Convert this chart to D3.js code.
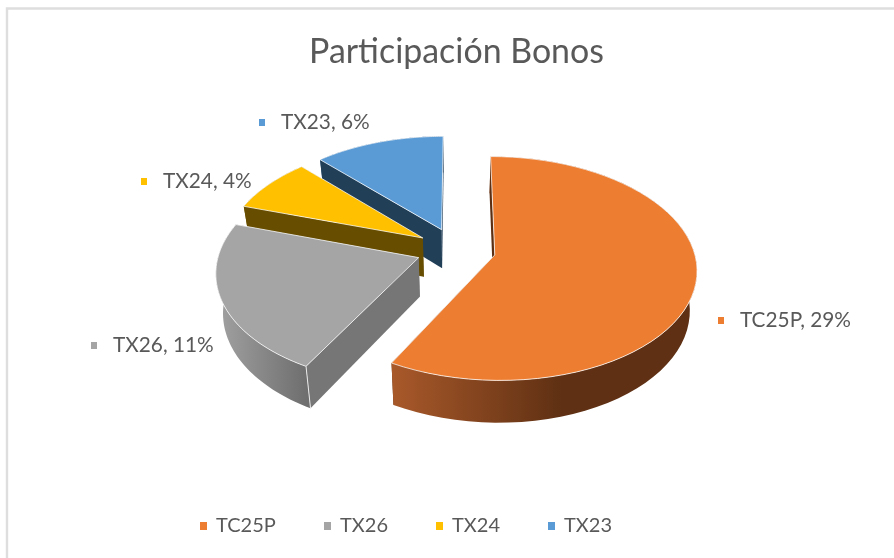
<!DOCTYPE html>
<html><head><meta charset="utf-8">
<script src="https://cdn.jsdelivr.net/npm/d3@7"></script>
<style>html,body{margin:0;padding:0;background:#fff}svg{display:block;filter:blur(0.5px)}text{font-family:Lato,"Open Sans",sans-serif;fill:#595959}</style>
</head><body><svg id="c" width="894" height="558"></svg>
<script>
const categories = ["TC25P","TX26","TX24","TX23"];
const values = [29,11,4,6];
const labelPercent = ["29%","11%","4%","6%"];
const chartTitle = "Participación Bonos";
const colors = ["#ED7D31","#A5A5A5","#FFC000","#5B9BD5"];
const radialWallColors = ["#5c2f12","#767676","#664d00","#223f58"];
const arcWallFrom = ["#a9592a","#a2a2a2","#806000","#2e5c85"];
const arcWallTo = ["#5f3013","#6f6f6f","#664d00","#223f58"];
const labelX = [740,113,163,281];
const labelY = [320,345,181,122];
const legendStarts = [216,340,452,564];
const paintOrder = [3,2,1,0];

const svg = d3.select("#c");
const cx=456, cy=249.5, rx=199, ry=109, persp=0.12, explode=0.2, depthD=39, depthGrow=1.025, shrink=0.97;
const sx = d3.scaleLinear().domain([-1,1]).range([-rx,rx]);
const sy = d3.scaleLinear().domain([-1,1]).range([-ry,ry]);
function proj(u,v,low){
  const k = 1/(1-persp*v);
  let X = sx(u)*k, Y = sy(v)*k;
  if(low){ X*=shrink; Y=Y*depthGrow+depthD; }
  return [cx+X, cy+Y];
}
const pie = d3.pie().sort(null).value(d=>d);
const arcs = pie(values);
const line = d3.line();
const defs = svg.append("defs");

// frame
svg.append("path").attr("d","M7,558V8.5H894").attr("fill","none").attr("stroke","#dedede").attr("stroke-width",2.4);

svg.append("text").attr("x",456.5).attr("y",63).attr("text-anchor","middle").attr("font-size",33.9).text(chartTitle);

paintOrder.forEach(i=>{
  const a = arcs[i];
  const mid=(a.startAngle+a.endAngle)/2;
  const ox=explode*Math.sin(mid), oy=-explode*Math.cos(mid);
  const pt=(t,r,low)=>proj(ox+r*Math.sin(t),oy-r*Math.cos(t),low);
  const ts=d3.range(0,1.0001,1/60).map(f=>a.startAngle+f*(a.endAngle-a.startAngle));
  const top=ts.map(t=>pt(t,1,false)), bot=ts.map(t=>pt(t,1,true));
  const apex=pt(0,0,false), apexB=pt(0,0,true);
  const g=svg.append("g");
  const xs=top.map(p=>p[0]);
  const id="w"+i;
  const front=top.filter(p=>p[1]>cy);
  const fx=front.length?d3.extent(front,p=>p[0]):d3.extent(xs);
  const gr=defs.append("linearGradient").attr("id",id).attr("gradientUnits","userSpaceOnUse")
    .attr("x1",fx[0]).attr("x2",i===0?fx[0]+170:fx[1]).attr("y1",0).attr("y2",0);
  gr.append("stop").attr("offset",0).attr("stop-color",arcWallFrom[i]);
  gr.append("stop").attr("offset",1).attr("stop-color",arcWallTo[i]);
  const radial=t=>g.append("path").attr("d",line([apex,pt(t,1,false),pt(t,1,true),apexB])+"Z").attr("fill",radialWallColors[i]);
  radial(a.endAngle);
  g.append("path").attr("d",line(top.concat(bot.slice().reverse()))+"Z").attr("fill",`url(#${id})`);
  radial(a.startAngle);
  if(i===1){
    const e=[pt(a.startAngle,1,false),pt(a.startAngle,1,true)];
    g.append("path").attr("d",line(e)).attr("stroke","#e8e8e8").attr("stroke-width",1).attr("fill","none");
  }
  g.append("path").attr("d",line([apex].concat(top))+"Z").attr("fill",colors[i])
    .attr("stroke","#fff").attr("stroke-opacity",0.75).attr("stroke-width",1).attr("stroke-linejoin","round");
});

// data labels
categories.forEach((c,i)=>{
  svg.append("rect").attr("x",labelX[i]-22).attr("y",labelY[i]-3).attr("width",6).attr("height",7).attr("fill",colors[i]);
  svg.append("text").attr("x",labelX[i]).attr("y",labelY[i]+7).attr("font-size",20.8).text(`${c}, ${labelPercent[i]}`);
});
// legend
categories.forEach((c,i)=>{
  svg.append("rect").attr("x",legendStarts[i]-16).attr("y",522).attr("width",7).attr("height",8).attr("fill",colors[i]);
  svg.append("text").attr("x",legendStarts[i]).attr("y",532).attr("font-size",20).text(c);
});
</script></body></html>
